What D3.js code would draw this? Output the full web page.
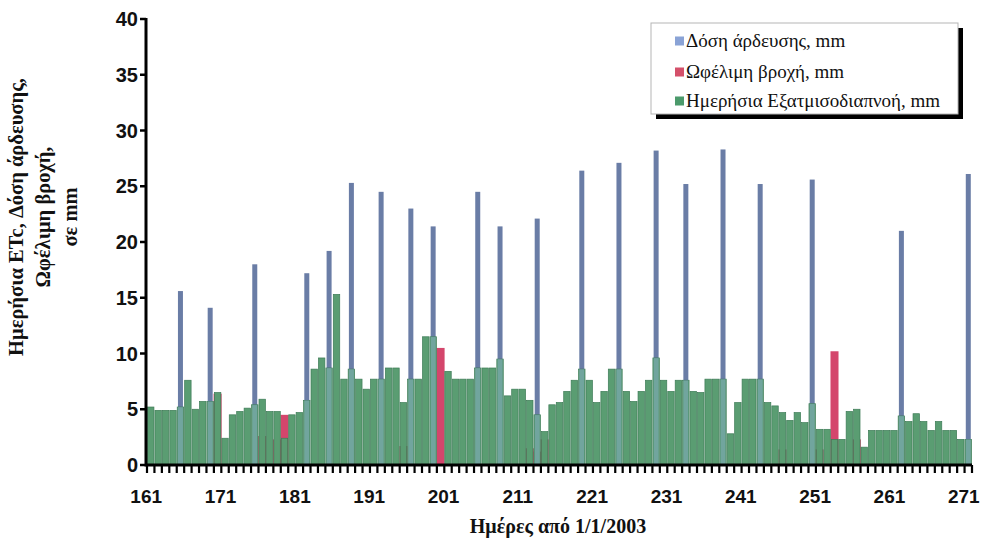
<!DOCTYPE html>
<html><head><meta charset="utf-8">
<script src="https://cdn.jsdelivr.net/npm/d3@7"></script>
<style>body{margin:0;background:#fff} svg{display:block}</style>
</head><body><svg id="c" width="981" height="544"></svg>
<script>
const firstDay = 161, lastDay = 271;
const days = d3.range(firstDay, lastDay + 1);
// Daily ETc (mm), days 161..271
const etValues = [
 5.2,4.9,4.9,4.9,5.2,7.6,5.0,5.7,5.7,6.5,
 2.4,4.5,4.8,5.1,5.4,5.9,4.8,4.8,2.4,4.5,
 4.7,5.8,8.6,9.6,8.7,15.3,7.7,8.6,7.7,6.8,
 7.7,7.7,8.7,8.7,5.6,7.7,7.7,11.5,11.5,0.0,
 8.4,7.7,7.7,7.7,8.7,8.7,8.7,9.5,6.2,6.8,
 6.8,5.8,4.5,3.0,5.4,5.6,6.6,7.6,8.6,7.6,
 5.6,6.6,8.6,8.6,6.6,5.7,6.6,7.6,9.6,7.6,
 6.6,7.6,7.6,6.6,6.5,7.7,7.7,7.7,2.8,5.6,
 7.7,7.7,7.7,5.6,5.3,4.7,4.0,4.7,3.8,5.5,
 3.2,3.2,2.3,2.3,4.8,5.0,1.6,3.1,3.1,3.1,
 3.1,4.4,3.9,4.6,3.9,3.1,3.9,3.1,3.1,2.3,
 2.3
];
const irrigationDays   = [165,169,175,182,185,188,192,196,199,205,208,213,219,224,229,233,238,243,250,262,271];
const irrigationValues = [15.6,14.1,18.0,17.2,19.2,25.3,24.5,23.0,21.4,24.5,21.4,22.1,26.4,27.1,28.2,25.2,28.3,25.2,25.6,21.0,26.1];
const rainDays   = [170,176,178,179,195,200,212,213,214,246,251,253,256];
const rainValues = [6.4,2.6,2.3,4.5,1.7,10.5,1.5,1.2,2.3,1.4,1.4,10.2,2.3];
const xTickLabels = [161,171,181,191,201,211,221,231,241,251,261,271];
const yTickValues = [0,5,10,15,20,25,30,35,40];
const legendLabels = ["Δόση άρδευσης, mm","Ωφέλιμη βροχή, mm","Ημερήσια Εξατμισοδιαπνοή, mm"];
const yTitleLines = ["Ημερήσια ETc, Δόση άρδευσης,","Ωφέλιμη βροχή,","σε mm"];
const xTitle = "Ημέρες από 1/1/2003";

const etData = days.map((d,i)=>({day:d, v:etValues[i]}));
const irrData = irrigationDays.map((d,i)=>({day:d, v:irrigationValues[i], et:etValues[days.indexOf(d)]}));
const rainData = rainDays.map((d,i)=>({day:d, v:rainValues[i]}));

const svg = d3.select('#c');
const x = d3.scaleBand().domain(days).range([147, 972]).padding(0);
const y = d3.scaleLinear().domain([0,40]).range([465, 19]);
const bw = x.bandwidth();

const COL_BLUE = "#6a7da6", COL_RED = "#d4466c", COL_GREEN = "#5a9d72";

// rain (behind)
svg.append("g").selectAll("rect").data(rainData).join("rect")
  .attr("x", d=>x(d.day)-0.3).attr("width", bw+0.6)
  .attr("y", d=>y(d.v)).attr("height", d=>y(0)-y(d.v))
  .attr("fill", COL_RED);
// irrigation (solid, behind green)
const bwBlue = 5;
svg.append("g").selectAll("rect").data(irrData).join("rect")
  .attr("x", d=>x(d.day)+bw/2-bwBlue/2).attr("width", bwBlue)
  .attr("y", d=>y(d.v)).attr("height", d=>y(0)-y(d.v))
  .attr("fill", COL_BLUE);
// ET green
svg.append("g").selectAll("rect").data(etData).join("rect")
  .attr("x", d=>x(d.day)+0.5).attr("width", bw-1)
  .attr("y", d=>y(d.v)).attr("height", d=>y(0)-y(d.v))
  .attr("fill", COL_GREEN).attr("stroke", "#3d7b56").attr("stroke-width", 0.7);
// irrigation seen through green
svg.append("g").selectAll("rect").data(irrData).join("rect")
  .attr("x", d=>x(d.day)+bw/2-bwBlue/2).attr("width", bwBlue)
  .attr("y", d=>y(Math.min(d.v,d.et))).attr("height", d=>y(0)-y(Math.min(d.v,d.et)))
  .attr("fill", "#8fb0d4").attr("opacity", 0.45);

// axes
const ax = svg.append("g");
ax.append("line").attr("x1",x.range()[0]-1).attr("x2",x.range()[1]).attr("y1",y(0)).attr("y2",y(0))
  .attr("stroke","#000").attr("stroke-width",3);
ax.append("line").attr("x1",146).attr("x2",146).attr("y1",y(40)-1).attr("y2",y(0)+1.5)
  .attr("stroke","#000").attr("stroke-width",3);
// x comb ticks
const bounds = days.map(d=>x(d)).concat([x.range()[1]]);
ax.append("g").selectAll("line").data(bounds).join("line")
  .attr("x1",d=>d).attr("x2",d=>d).attr("y1",y(0)).attr("y2",y(0)+8)
  .attr("stroke","#000").attr("stroke-width",2.2);
// x labels
ax.append("g").selectAll("text").data(xTickLabels).join("text")
  .attr("x",d=>x(d)+bw/2-4.5).attr("y",503).attr("text-anchor","middle")
  .attr("font-family","'Liberation Sans', Arial, sans-serif").attr("font-weight","bold")
  .attr("font-size",19).attr("fill","#111").text(d=>d);
// y ticks
ax.append("g").selectAll("line").data(yTickValues).join("line")
  .attr("x1",140).attr("x2",146).attr("y1",d=>y(d)).attr("y2",d=>y(d))
  .attr("stroke","#000").attr("stroke-width",2.5);
ax.append("g").selectAll("text").data(yTickValues).join("text")
  .attr("x",138).attr("y",d=>y(d)).attr("dy","0.36em").attr("text-anchor","end")
  .attr("font-family","'Liberation Sans', Arial, sans-serif").attr("font-weight","bold")
  .attr("font-size",20).attr("fill","#111").text(d=>d);

// titles
svg.append("text").attr("x",558).attr("y",533).attr("text-anchor","middle")
  .attr("font-family","'Liberation Serif', 'Times New Roman', serif").attr("font-weight","bold")
  .attr("font-size",20).attr("fill","#111").text(xTitle);
const yt = svg.append("g").attr("transform","translate(0,217) rotate(-90)");
yTitleLines.forEach((t,i)=>{
  yt.append("text").attr("x",0).attr("y",23+i*27).attr("text-anchor","middle")
    .attr("font-family","'Liberation Serif', 'Times New Roman', serif").attr("font-weight","bold")
    .attr("font-size",20.5).attr("fill","#111").text(t);
});

// legend
const lg = svg.append("g");
lg.append("rect").attr("x",656).attr("y",28).attr("width",307).attr("height",91).attr("fill","#000");
lg.append("rect").attr("x",651).attr("y",23).attr("width",307).attr("height",91).attr("fill","#fff")
  .attr("stroke","#b5b5b5").attr("stroke-width",1);
const legCols = ["#8aa3d6","#d4506a","#4b9a6b"];
const legY = [41,72,101];
legendLabels.forEach((t,i)=>{
  lg.append("rect").attr("x",675).attr("y",legY[i]-4.5).attr("width",9).attr("height",9).attr("fill",legCols[i]);
  lg.append("text").attr("x",686).attr("y",legY[i]+6)
    .attr("font-family","'Liberation Serif', 'Times New Roman', serif")
    .attr("font-size",19).attr("fill","#111").text(t);
});
</script></body></html>
